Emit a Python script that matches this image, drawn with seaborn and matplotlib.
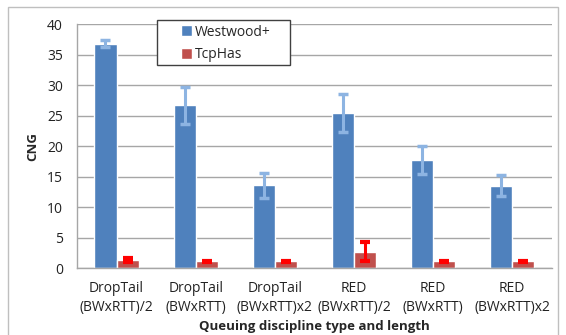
import numpy as np
import pandas as pd
import seaborn as sns
import matplotlib.pyplot as plt
from matplotlib.patches import Rectangle

categories = ['DropTail\n(BWxRTT)/2', 'DropTail\n(BWxRTT)', 'DropTail\n(BWxRTT)x2',
              'RED\n(BWxRTT)/2', 'RED\n(BWxRTT)', 'RED\n(BWxRTT)x2']
westwood = [36.8, 26.7, 13.6, 25.4, 17.7, 13.5]
westwood_err = [0.6, 3.0, 2.05, 3.1, 2.3, 1.75]
tcphas = [1.3, 1.1, 1.1, 2.7, 1.1, 1.1]
tcphas_err = [0.3, 0.1, 0.1, 1.6, 0.1, 0.1]

df = pd.DataFrame({
    'cat': categories * 2,
    'CNG': westwood + tcphas,
    'proto': ['Westwood+'] * 6 + ['TcpHas'] * 6,
})

sns.set_style('white')
plt.rcParams['font.family'] = ['Open Sans', 'DejaVu Sans']

W, H = 566, 335
fig = plt.figure(figsize=(W / 100, H / 100), dpi=100)
ax = fig.add_axes([0.136, 0.2, 0.839, 0.728])

sns.barplot(data=df, x='cat', y='CNG', hue='proto', order=categories,
            hue_order=['Westwood+', 'TcpHas'], palette=['#4F81BD', '#C0504D'],
            width=0.56, errorbar=None, saturation=1, ax=ax)

# error bars placed on the drawn bars
bars = [p for p in ax.patches if p.get_height() > 0]
bars = sorted(bars, key=lambda p: p.get_x())
blue = [b for b in bars if abs(b.get_facecolor()[2] - 0.741) < 0.05]
red = [b for b in bars if b not in blue]
bx = [b.get_x() + b.get_width() / 2 for b in blue]
rx = [b.get_x() + b.get_width() / 2 for b in red]
ax.errorbar(bx, westwood, yerr=westwood_err, fmt='none', ecolor='#8DB4E2',
            elinewidth=2.2, capsize=3.5, capthick=2.5, zorder=5)
ax.errorbar(rx, tcphas, yerr=tcphas_err, fmt='none', ecolor='#FF0000',
            elinewidth=2.2, capsize=3.5, capthick=3, zorder=5)

ax.set_ylim(0, 40)
ax.set_yticks(range(0, 41, 5))
ax.set_xlim(-0.5, 5.5)
ax.yaxis.grid(True, color='#a6a6a6', linewidth=1)
ax.set_axisbelow(True)
for s in ['top', 'right']:
    ax.spines[s].set_visible(False)
for s in ['left', 'bottom']:
    ax.spines[s].set_color('#a6a6a6')
    ax.spines[s].set_linewidth(1)

ax.set_xticks(np.arange(-0.5, 6, 1), minor=True)
ax.tick_params(axis='x', which='major', length=0, labelsize=10, pad=9, colors='#222222')
ax.tick_params(axis='x', which='minor', length=5, color='#a6a6a6', width=1)
ax.tick_params(axis='y', length=0, labelsize=10, colors='#222222', pad=10)
for t in ax.get_xticklabels():
    t.set_linespacing(1.45)

ax.set_xlabel('Queuing discipline type and length', fontweight='bold', fontsize=9.5, labelpad=3)
ax.set_ylabel('CNG', fontweight='bold', fontsize=9.5, labelpad=6)

# legend box: white fill over the gridlines, drawn to reference size
ax.add_patch(Rectangle((157 / W, 1 - 65 / H), 133 / W, 45 / H,
                       transform=fig.transFigure, clip_on=False,
                       facecolor='white', edgecolor='#404040', linewidth=1, zorder=4))
leg = ax.legend(loc='upper left', bbox_to_anchor=((177 - 77) / 475, 1.015), fontsize=10,
                frameon=False, handlelength=0.8, handleheight=0.8, handletextpad=0.2,
                borderpad=0.3, labelspacing=0.55, borderaxespad=0)
leg.set_zorder(6)

fig.patches.append(Rectangle((8 / W, -0.01), 550 / W, 1 - 7 / H + 0.01,
                             transform=fig.transFigure, fill=False,
                             edgecolor='#bfbfbf', linewidth=1))

fig.savefig('out.png', dpi=100)
